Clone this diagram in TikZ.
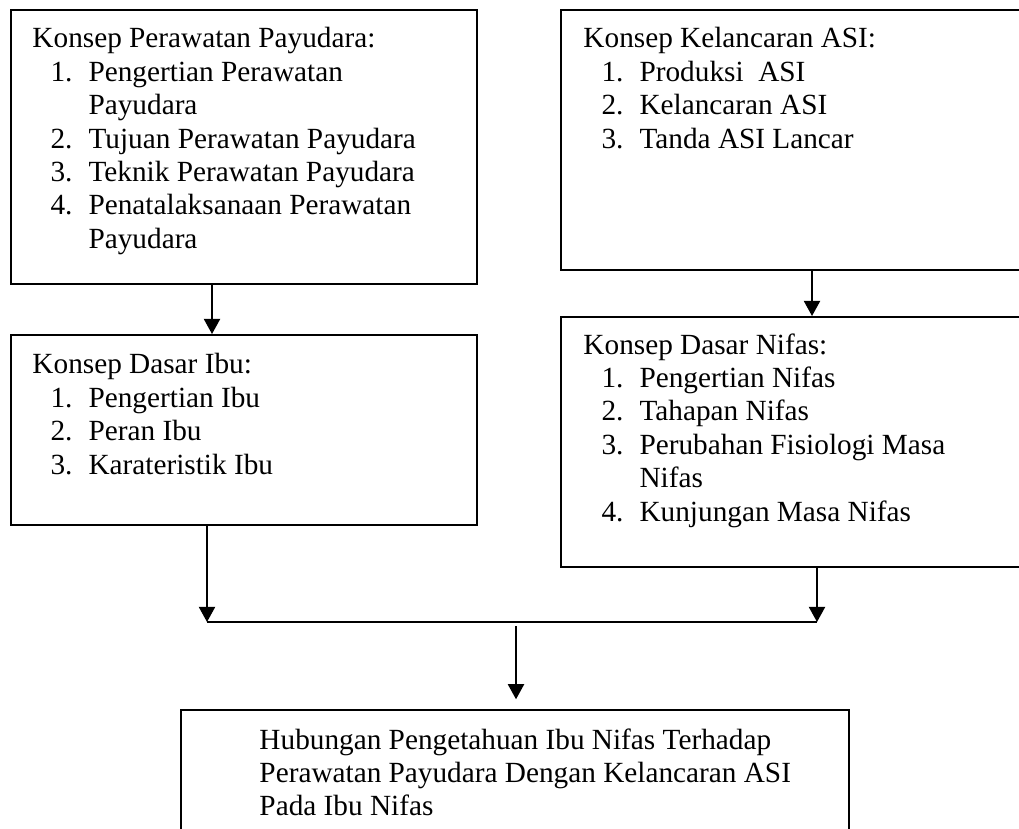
\documentclass[tikz,border=0pt]{standalone}
\usepackage{fontspec}
\setmainfont{Liberation Serif}
\usetikzlibrary{arrows.meta,fit}

\newcommand{\nomor}[1]{\hspace*{7.4pt}\makebox[15.6pt][l]{#1}}
\newcommand{\lanjut}{\hspace*{23pt}}

\tikzset{
	kotak/.style={draw, line width=0.8pt, inner sep=0pt},
	isi/.style={anchor=north west, align=left, inner sep=0pt, font=\fontsize{12}{13.7}\selectfont},
	panah/.style={line width=0.8pt, -{Triangle[length=6.2pt,width=6.6pt]}}
}

\begin{document}
\begin{tikzpicture}[x=0.41pt,y=-0.41pt]
	\useasboundingbox (0,0) rectangle (1019,829);
	\clip (0,0) rectangle (1019,829);
	
	\node[kotak, fit={(11,10) (477,284)}] (b1) {};
	\node[kotak, fit={(561,10) (1040,270)}] (b2) {};
	\node[kotak, fit={(11,335) (477,525)}] (b3) {};
	\node[kotak, fit={(561,317) (1040,567)}] (b4) {};
	\node[kotak, fit={(181,710) (849,850)}] (b5) {};
	
	\node[isi] (t1) at (32,27) {Konsep Perawatan Payudara:\\
		\nomor{1.}Pengertian Perawatan\\
		\lanjut Payudara\\
		\nomor{2.}Tujuan Perawatan Payudara\\
		\nomor{3.}Teknik Perawatan Payudara\\
		\nomor{4.}Penatalaksanaan Perawatan\\
		\lanjut Payudara};
	
	\node[isi] (t2) at (583,27) {Konsep Kelancaran ASI:\\
		\nomor{1.}Produksi\ \ ASI\\
		\nomor{2.}Kelancaran ASI\\
		\nomor{3.}Tanda ASI Lancar};
	
	\node[isi] (t3) at (32,353) {Konsep Dasar Ibu:\\
		\nomor{1.}Pengertian Ibu\\
		\nomor{2.}Peran Ibu\\
		\nomor{3.}Karateristik Ibu};
	
	\node[isi] (t4) at (583,333) {Konsep Dasar Nifas:\\
		\nomor{1.}Pengertian Nifas\\
		\nomor{2.}Tahapan Nifas\\
		\nomor{3.}Perubahan Fisiologi Masa\\
		\lanjut Nifas\\
		\nomor{4.}Kunjungan Masa Nifas};
	
	\node[isi] (t5) at (259,728) {Hubungan Pengetahuan Ibu Nifas Terhadap\\
		Perawatan Payudara Dengan Kelancaran ASI\\
		Pada Ibu Nifas};
	
	\coordinate (jalur1) at (212,0);
	\coordinate (jalur2) at (812,0);
	\coordinate (kiri) at (207,622);
	\coordinate (kanan) at (817,622);
	\coordinate (tengah) at (516,626);
	
	\draw[panah] (b1.south -| jalur1) -- (b3.north -| jalur1);
	\draw[panah] (b2.south -| jalur2) -- (b4.north -| jalur2);
	
	\draw[panah] (b3.south -| kiri) -- (kiri);
	\draw[panah] (b4.south -| kanan) -- (kanan);
	\draw[line width=0.8pt] (kiri) -- (kanan);
	\draw[panah, shorten >=4pt] (tengah) -- (b5.north -| tengah);
	
	%\node at (516,600) {};
\end{tikzpicture}
\end{document}
